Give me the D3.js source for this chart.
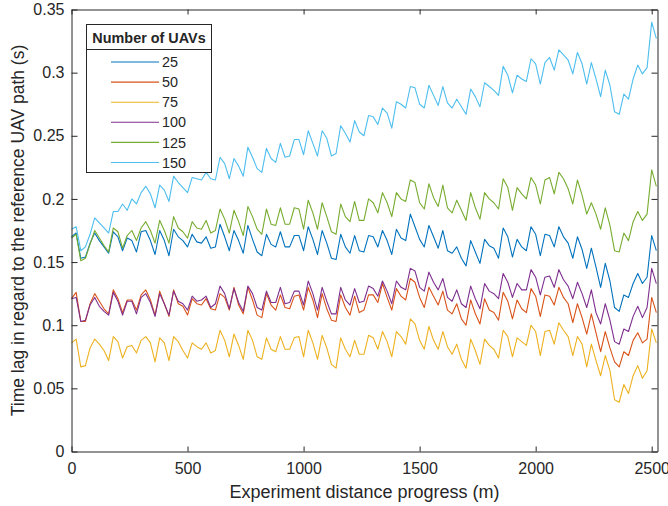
<!DOCTYPE html>
<html>
<head>
<meta charset="utf-8">
<script src="https://cdnjs.cloudflare.com/ajax/libs/d3/7.8.5/d3.min.js"></script>
<style>
body { margin: 0; background: #fff; }
text { font-family: "Liberation Sans", Arial, Helvetica, sans-serif; fill: #262626; }
</style>
</head>
<body>
<script>
var width = 668, height = 506;
var margin = {left: 71.5, right: 10.5, top: 9.5, bottom: 54.5};

// sampling grid of the experiment (m)
var distance = d3.range(0, 2521, 20);

var uavCounts = ["25", "50", "75", "100", "125", "150"];
var colors = ["#0072BD", "#D95319", "#EDB120", "#7E2F8E", "#77AC30", "#4DBEEE"];

var xTicks = [0, 500, 1000, 1500, 2000, 2500];
var yTicks = [0, 0.05, 0.1, 0.15, 0.2, 0.25, 0.3, 0.35];

var lag25 = [
	0.170, 0.173, 0.153, 0.154, 0.165, 0.173, 0.167, 0.162, 0.157, 0.174,
	0.170, 0.159, 0.169, 0.167, 0.158, 0.174, 0.175, 0.167, 0.156, 0.175,
	0.167, 0.155, 0.176, 0.170, 0.167, 0.162, 0.172, 0.166, 0.165, 0.170,
	0.161, 0.162, 0.180, 0.170, 0.159, 0.175, 0.167, 0.157, 0.179, 0.168,
	0.158, 0.155, 0.172, 0.164, 0.162, 0.174, 0.162, 0.162, 0.171, 0.171,
	0.159, 0.178, 0.168, 0.156, 0.175, 0.165, 0.153, 0.152, 0.172, 0.162,
	0.157, 0.171, 0.159, 0.158, 0.171, 0.170, 0.162, 0.175, 0.167, 0.156,
	0.176, 0.169, 0.167, 0.188, 0.178, 0.168, 0.162, 0.179, 0.170, 0.161,
	0.175, 0.159, 0.157, 0.162, 0.153, 0.147, 0.167, 0.158, 0.149, 0.168,
	0.163, 0.161, 0.153, 0.177, 0.170, 0.154, 0.168, 0.162, 0.159, 0.178,
	0.172, 0.155, 0.172, 0.171, 0.162, 0.178, 0.170, 0.165, 0.153, 0.170,
	0.160, 0.145, 0.161, 0.146, 0.130, 0.149, 0.135, 0.114, 0.111, 0.124,
	0.122, 0.133, 0.141, 0.133, 0.138, 0.171, 0.159];

var lag50 = [
	0.121, 0.126, 0.103, 0.103, 0.117, 0.125, 0.119, 0.113, 0.109, 0.128,
	0.121, 0.110, 0.120, 0.120, 0.112, 0.124, 0.128, 0.120, 0.108, 0.127,
	0.117, 0.107, 0.128, 0.117, 0.115, 0.108, 0.121, 0.117, 0.116, 0.121,
	0.113, 0.112, 0.125, 0.122, 0.112, 0.130, 0.116, 0.109, 0.130, 0.120,
	0.108, 0.106, 0.125, 0.116, 0.112, 0.124, 0.114, 0.113, 0.123, 0.124,
	0.112, 0.130, 0.120, 0.106, 0.125, 0.113, 0.104, 0.103, 0.124, 0.114,
	0.108, 0.123, 0.110, 0.112, 0.124, 0.124, 0.118, 0.133, 0.122, 0.112,
	0.129, 0.123, 0.120, 0.137, 0.134, 0.122, 0.114, 0.130, 0.123, 0.116,
	0.127, 0.112, 0.109, 0.117, 0.105, 0.100, 0.120, 0.109, 0.101, 0.121,
	0.112, 0.110, 0.104, 0.126, 0.119, 0.105, 0.120, 0.113, 0.110, 0.129,
	0.123, 0.107, 0.124, 0.123, 0.116, 0.130, 0.122, 0.117, 0.102, 0.117,
	0.106, 0.093, 0.109, 0.094, 0.079, 0.095, 0.082, 0.071, 0.067, 0.079,
	0.076, 0.088, 0.094, 0.086, 0.089, 0.122, 0.110];

var lag75 = [
	0.086, 0.089, 0.067, 0.068, 0.082, 0.089, 0.085, 0.080, 0.072, 0.091,
	0.087, 0.074, 0.083, 0.084, 0.078, 0.088, 0.091, 0.086, 0.071, 0.090,
	0.086, 0.072, 0.091, 0.087, 0.080, 0.074, 0.086, 0.083, 0.081, 0.086,
	0.078, 0.080, 0.096, 0.088, 0.075, 0.093, 0.084, 0.073, 0.096, 0.088,
	0.075, 0.073, 0.090, 0.081, 0.079, 0.091, 0.081, 0.081, 0.090, 0.091,
	0.075, 0.096, 0.086, 0.073, 0.092, 0.082, 0.069, 0.066, 0.090, 0.081,
	0.075, 0.088, 0.077, 0.077, 0.092, 0.090, 0.081, 0.095, 0.087, 0.075,
	0.095, 0.091, 0.085, 0.105, 0.101, 0.088, 0.081, 0.099, 0.088, 0.081,
	0.095, 0.083, 0.077, 0.085, 0.073, 0.066, 0.089, 0.080, 0.069, 0.089,
	0.084, 0.081, 0.074, 0.096, 0.091, 0.075, 0.090, 0.087, 0.084, 0.100,
	0.095, 0.076, 0.095, 0.096, 0.085, 0.102, 0.096, 0.091, 0.076, 0.091,
	0.085, 0.067, 0.085, 0.072, 0.060, 0.076, 0.064, 0.041, 0.039, 0.053,
	0.046, 0.060, 0.068, 0.058, 0.064, 0.097, 0.086];

var lag100 = [
	0.121, 0.122, 0.103, 0.104, 0.116, 0.122, 0.115, 0.111, 0.108, 0.126,
	0.119, 0.108, 0.119, 0.119, 0.109, 0.122, 0.125, 0.118, 0.107, 0.125,
	0.117, 0.108, 0.127, 0.119, 0.117, 0.112, 0.123, 0.119, 0.120, 0.123,
	0.114, 0.117, 0.131, 0.125, 0.113, 0.129, 0.118, 0.111, 0.131, 0.125,
	0.114, 0.112, 0.127, 0.118, 0.118, 0.130, 0.117, 0.118, 0.127, 0.127,
	0.116, 0.135, 0.125, 0.112, 0.130, 0.119, 0.109, 0.109, 0.130, 0.120,
	0.116, 0.129, 0.118, 0.119, 0.131, 0.129, 0.123, 0.135, 0.127, 0.117,
	0.135, 0.130, 0.128, 0.145, 0.143, 0.130, 0.127, 0.142, 0.134, 0.128,
	0.137, 0.122, 0.119, 0.128, 0.117, 0.114, 0.131, 0.121, 0.113, 0.133,
	0.127, 0.125, 0.121, 0.141, 0.134, 0.122, 0.133, 0.128, 0.128, 0.144,
	0.138, 0.124, 0.138, 0.139, 0.130, 0.144, 0.136, 0.131, 0.121, 0.134,
	0.125, 0.114, 0.128, 0.110, 0.101, 0.117, 0.104, 0.087, 0.085, 0.097,
	0.095, 0.107, 0.115, 0.106, 0.114, 0.145, 0.133];

var lag125 = [
	0.169, 0.172, 0.151, 0.153, 0.164, 0.175, 0.169, 0.163, 0.158, 0.177,
	0.174, 0.161, 0.171, 0.175, 0.167, 0.177, 0.182, 0.175, 0.165, 0.183,
	0.175, 0.165, 0.186, 0.177, 0.174, 0.169, 0.182, 0.177, 0.176, 0.183,
	0.173, 0.175, 0.192, 0.184, 0.173, 0.191, 0.182, 0.171, 0.194, 0.186,
	0.176, 0.172, 0.192, 0.180, 0.179, 0.193, 0.180, 0.180, 0.193, 0.192,
	0.176, 0.199, 0.189, 0.176, 0.197, 0.186, 0.174, 0.172, 0.196, 0.186,
	0.182, 0.198, 0.183, 0.183, 0.200, 0.197, 0.189, 0.205, 0.197, 0.186,
	0.205, 0.200, 0.198, 0.215, 0.213, 0.197, 0.192, 0.212, 0.201, 0.194,
	0.211, 0.193, 0.189, 0.199, 0.191, 0.183, 0.205, 0.193, 0.184, 0.205,
	0.200, 0.197, 0.192, 0.216, 0.209, 0.191, 0.209, 0.204, 0.200, 0.217,
	0.211, 0.196, 0.215, 0.217, 0.204, 0.221, 0.216, 0.208, 0.196, 0.215,
	0.203, 0.188, 0.197, 0.188, 0.176, 0.193, 0.179, 0.159, 0.158, 0.173,
	0.167, 0.182, 0.190, 0.183, 0.188, 0.223, 0.210];

var lag150 = [
	0.176, 0.178, 0.159, 0.162, 0.172, 0.185, 0.181, 0.177, 0.173, 0.190,
	0.190, 0.196, 0.191, 0.200, 0.196, 0.205, 0.210, 0.204, 0.193, 0.211,
	0.207, 0.198, 0.218, 0.213, 0.209, 0.205, 0.217, 0.216, 0.215, 0.221,
	0.216, 0.215, 0.233, 0.228, 0.216, 0.232, 0.226, 0.218, 0.241, 0.233,
	0.224, 0.221, 0.240, 0.232, 0.229, 0.244, 0.233, 0.234, 0.247, 0.247,
	0.235, 0.254, 0.244, 0.234, 0.254, 0.248, 0.234, 0.236, 0.258, 0.252,
	0.245, 0.262, 0.253, 0.250, 0.266, 0.265, 0.259, 0.272, 0.268, 0.256,
	0.277, 0.275, 0.272, 0.289, 0.288, 0.275, 0.272, 0.290, 0.282, 0.274,
	0.289, 0.276, 0.272, 0.279, 0.273, 0.267, 0.287, 0.281, 0.273, 0.292,
	0.289, 0.286, 0.282, 0.305, 0.298, 0.284, 0.298, 0.295, 0.293, 0.311,
	0.307, 0.291, 0.308, 0.312, 0.302, 0.318, 0.314, 0.310, 0.299, 0.316,
	0.307, 0.291, 0.308, 0.295, 0.281, 0.302, 0.290, 0.269, 0.267, 0.283,
	0.279, 0.295, 0.306, 0.299, 0.304, 0.340, 0.327];

var series = [lag25, lag50, lag75, lag100, lag125, lag150];

var svg = d3.select("body")
	.append("svg")
	.attr("width", width)
	.attr("height", height);

svg.append("rect").attr("width", width).attr("height", height).attr("fill", "#fff");

var x = d3.scaleLinear()
	.domain([0, 2525])
	.range([margin.left, width - margin.right]);

var y = d3.scaleLinear()
	.domain([0, 0.35])
	.range([height - margin.bottom, margin.top]);

var line = d3.line()
	.x(function(d, i) { return x(distance[i]); })
	.y(function(d) { return y(d); });

// data lines
series.forEach(function(s, k) {
	svg.append("path")
		.datum(s)
		.attr("fill", "none")
		.attr("stroke", colors[k])
		.attr("stroke-width", 1.1)
		.attr("stroke-linejoin", "round")
		.attr("d", line);
});

// axes, ticks pointing inward on all four sides (box on)
var fmtX = function(d) { return String(d); };
var fmtY = function(d) { return String(+d.toFixed(2)); };

var gBottom = svg.append("g")
	.attr("transform", "translate(0," + (height - margin.bottom) + ")")
	.call(d3.axisBottom(x).tickValues(xTicks).tickSizeInner(-5).tickSizeOuter(0).tickPadding(11).tickFormat(fmtX));
var gTop = svg.append("g")
	.attr("transform", "translate(0," + margin.top + ")")
	.call(d3.axisTop(x).tickValues(xTicks).tickSizeInner(-5).tickSizeOuter(0).tickFormat(""));
var gLeft = svg.append("g")
	.attr("transform", "translate(" + margin.left + ",0)")
	.call(d3.axisLeft(y).tickValues(yTicks).tickSizeInner(-6).tickSizeOuter(0).tickPadding(7).tickFormat(fmtY));
var gRight = svg.append("g")
	.attr("transform", "translate(" + (width - margin.right) + ",0)")
	.call(d3.axisRight(y).tickValues(yTicks).tickSizeInner(-6).tickSizeOuter(0).tickFormat(""));

[gBottom, gTop, gLeft, gRight].forEach(function(g) {
	g.selectAll(".domain").attr("stroke", "#262626").attr("stroke-width", 1);
	g.selectAll(".tick line").attr("stroke", "#262626").attr("stroke-width", 1);
	g.selectAll(".tick text")
		.attr("fill", "#262626")
		.style("font-family", "'Liberation Sans', Arial, sans-serif")
		.style("font-size", "16px");
});

// axis titles
svg.append("text")
	.attr("x", (margin.left + width - margin.right) / 2)
	.attr("y", 498)
	.attr("text-anchor", "middle")
	.style("font-size", "18px")
	.text("Experiment distance progress (m)");

svg.append("text")
	.attr("transform", "translate(24," + ((margin.top + height - margin.bottom) / 2) + ")rotate(-90)")
	.attr("text-anchor", "middle")
	.style("font-size", "17.5px")
	.text("Time lag in regard to the reference UAV path (s)");

// legend
var lg = svg.append("g").attr("transform", "translate(86.5,24.5)");
var lgW = 125, lgH = 148;
lg.append("rect")
	.attr("width", lgW).attr("height", lgH)
	.attr("fill", "#fff").attr("stroke", "#262626").attr("stroke-width", 1);
lg.append("line")
	.attr("x1", 0).attr("x2", lgW).attr("y1", 25).attr("y2", 25)
	.attr("stroke", "#262626").attr("stroke-width", 1);
lg.append("text")
	.attr("x", lgW / 2).attr("y", 18.5)
	.attr("text-anchor", "middle")
	.style("font-size", "14.4px").style("font-weight", "bold")
	.text("Number of UAVs");

var item = lg.selectAll(".item")
	.data(uavCounts)
	.enter()
	.append("g")
	.attr("class", "item")
	.attr("transform", function(d, i) { return "translate(0," + (37.5 + i * 20.1) + ")"; });
item.append("line")
	.attr("x1", 24.5).attr("x2", 72.5)
	.attr("stroke", function(d, i) { return colors[i]; })
	.attr("stroke-width", 1.1);
item.append("text")
	.attr("x", 75.5).attr("dy", "0.36em")
	.style("font-size", "14.4px")
	.text(function(d) { return d; });
</script>
</body>
</html>
